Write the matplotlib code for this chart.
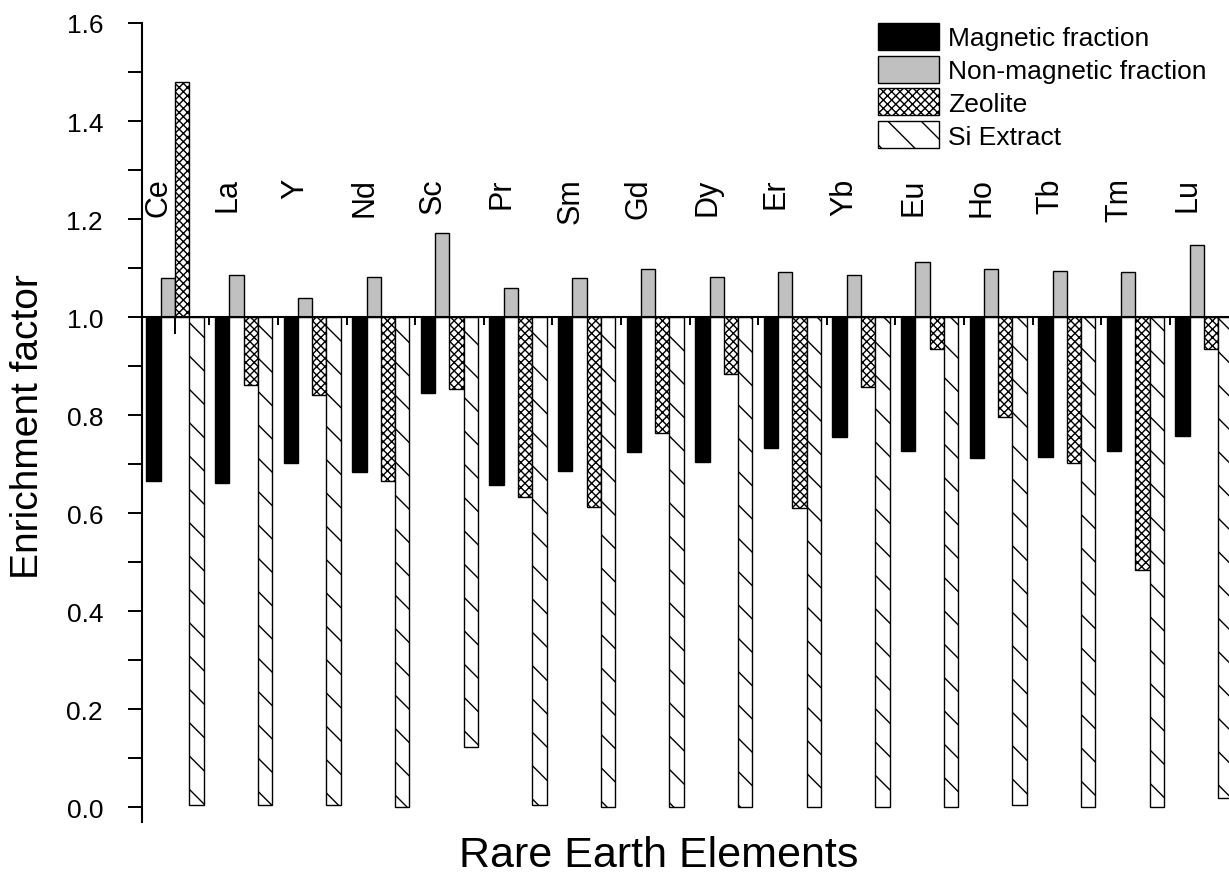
import numpy as np
import matplotlib
matplotlib.use('Agg')
from matplotlib import pyplot as plt

plt.rcParams['font.family'] = ['Liberation Sans', 'DejaVu Sans']
plt.rcParams['hatch.linewidth'] = 1.0

elements = ['Ce', 'La', 'Y', 'Nd', 'Sc', 'Pr', 'Sm', 'Gd', 'Dy', 'Er', 'Yb', 'Eu', 'Ho', 'Tb', 'Tm', 'Lu']
magnetic = [0.666, 0.662, 0.702, 0.684, 0.844, 0.657, 0.686, 0.725, 0.705, 0.733, 0.756, 0.727, 0.712, 0.715, 0.727, 0.757]
non_magnetic = [1.080, 1.086, 1.039, 1.082, 1.172, 1.059, 1.080, 1.098, 1.082, 1.092, 1.086, 1.113, 1.098, 1.094, 1.092, 1.147]
zeolite = [1.480, 0.861, 0.840, 0.666, 0.854, 0.633, 0.612, 0.763, 0.884, 0.610, 0.858, 0.935, 0.795, 0.702, 0.484, 0.935]
si_extract = [0.005, 0.005, 0.005, 0.0, 0.122, 0.005, 0.0, 0.0, 0.0, 0.0, 0.0, 0.0, 0.005, 0.0, 0.0, 0.018]
series_names = ['Magnetic fraction', 'Non-magnetic fraction', 'Zeolite', 'Si Extract']

fig = plt.figure(figsize=(12.29, 8.79), dpi=100)
ax = fig.add_axes([142/1229, 0.0640, 1 - 142/1229, 0.9087])

x = np.arange(len(elements))
w = 0.208
baseline = 1.0
styles = [dict(color='black'), dict(color='#c0c0c0'), dict(color='white', hatch='xxxx'), dict(color='white', hatch='\\')]
series = [magnetic, non_magnetic, zeolite, si_extract]
bars = []
for k, (vals, st) in enumerate(zip(series, styles)):
    vals = np.array(vals)
    b = ax.bar(x + (k - 1.5)*w, vals - baseline, bottom=baseline, width=w,
               edgecolor='black', linewidth=1.0, label=series_names[k], **st)
    bars.append(b)

# element names above the bars
for i, name in enumerate(elements):
    ax.text(i - 0.24, 1.285, name, rotation=90, ha='center', va='top', fontsize=22)

ax.set_xlim(-0.481, 15.364)
ax.set_ylim(-0.03, 1.6)

ax.spines['top'].set_visible(False)
ax.spines['right'].set_visible(False)
ax.spines['bottom'].set_position(('data', baseline))
ax.spines['bottom'].set_linewidth(1.5)
ax.spines['left'].set_linewidth(1.5)

ax.set_yticks(np.arange(0, 1.61, 0.2))
ax.set_yticks(np.arange(0.1, 1.6, 0.2), minor=True)
ax.set_yticklabels([f'{v:.1f}' for v in np.arange(0, 1.61, 0.2)])
ax.tick_params(axis='y', which='both', direction='out', length=10, width=1.4, labelsize=19, pad=18)

ax.set_xticks(x[:-1] + 0.5)
ax.set_xticks([0], minor=True)
ax.tick_params(axis='x', which='major', direction='out', length=6, width=1.4, labelbottom=False)
ax.tick_params(axis='x', which='minor', direction='out', length=12, width=1.4, labelbottom=False)

fig.text(28/1229, 0.515, 'Enrichment factor', rotation=90, ha='center', va='center', fontsize=28)
fig.text(0.536, 0.014, 'Rare Earth Elements', ha='center', va='baseline', fontsize=31)

ax.legend(handles=bars, loc='upper left', bbox_to_anchor=(878/1229, 1 - 24/879),
          bbox_transform=fig.transFigure, frameon=False, fontsize=19,
          handlelength=2.3, handleheight=1.2, handletextpad=0.35,
          labelspacing=0.2, borderpad=0, borderaxespad=0)

plt.savefig('out.png', dpi=100)
